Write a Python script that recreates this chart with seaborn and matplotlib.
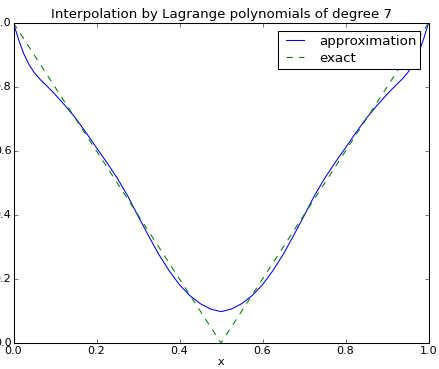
import matplotlib
matplotlib.use("Agg")
import matplotlib.pyplot as plt
import seaborn as sns
import pandas as pd

# Approximation curve
approx_x = [0.0, 0.0125, 0.025, 0.0375, 0.05, 0.0625, 0.075, 0.0875, 0.1, 0.1125,
            0.125, 0.15, 0.175, 0.2, 0.225, 0.25, 0.275, 0.3, 0.325, 0.35,
            0.375, 0.4, 0.425, 0.45, 0.475, 0.5, 0.525, 0.55, 0.575, 0.6,
            0.625, 0.65, 0.675, 0.7, 0.725, 0.75, 0.775, 0.8, 0.825, 0.85,
            0.875, 0.8875, 0.9, 0.9125, 0.925, 0.9375, 0.95, 0.9625, 0.975,
            0.9875, 1.0]
approx_y = [1.000, 0.947, 0.903, 0.870, 0.845, 0.826, 0.810, 0.794, 0.777, 0.759,
            0.741, 0.702, 0.657, 0.610, 0.564, 0.515, 0.460, 0.397, 0.336, 0.277,
            0.226, 0.182, 0.148, 0.123, 0.106, 0.098, 0.106, 0.123, 0.148, 0.182,
            0.226, 0.277, 0.336, 0.397, 0.460, 0.515, 0.564, 0.610, 0.657, 0.702,
            0.741, 0.759, 0.777, 0.794, 0.810, 0.826, 0.845, 0.870, 0.903,
            0.947, 1.000]

# Exact function
exact_x = [0.0, 0.5, 1.0]
exact_y = [1.0, 0.0, 1.0]

title = "Interpolation by Lagrange polynomials of degree 7"
xticks = [0.0, 0.2, 0.4, 0.6, 0.8, 1.0]
yticks = [0.0, 0.2, 0.4, 0.6, 0.8, 1.0]

plt.style.use("classic")
plt.rcParams["font.family"] = ["DejaVu Sans"]
plt.rcParams["font.size"] = 10.6
plt.rcParams["xtick.major.pad"] = 3
plt.rcParams["ytick.major.pad"] = 2

dpi = 75.6
fig = plt.figure(figsize=(439 / dpi, 369 / dpi), dpi=dpi, facecolor="white")
ax = fig.add_axes([13.5 / 439, 26 / 369, 415 / 439, 320 / 369])

df_a = pd.DataFrame({"x": approx_x, "y": approx_y})
df_e = pd.DataFrame({"x": exact_x, "y": exact_y})

sns.lineplot(data=df_a, x="x", y="y", ax=ax, color="b", lw=1.0,
             label="approximation", estimator=None, sort=False)
sns.lineplot(data=df_e, x="x", y="y", ax=ax, color="g", lw=1.0,
             linestyle="--", label="exact", estimator=None, sort=False)

ax.set_xlim(0, 1)
ax.set_ylim(0, 1)
ax.set_xticks(xticks)
ax.set_yticks(yticks)
ax.set_xticklabels([f"{t:.1f}" for t in xticks])
ax.set_yticklabels([f"{t:.1f}" for t in yticks])
ax.set_xlabel("x", labelpad=1)
ax.set_ylabel("")
ax.set_title(title)
ax.legend(loc="upper right", borderaxespad=0.6, labelspacing=0.27,
          borderpad=0.3)

fig.savefig("out.png", dpi=dpi, facecolor="white")
